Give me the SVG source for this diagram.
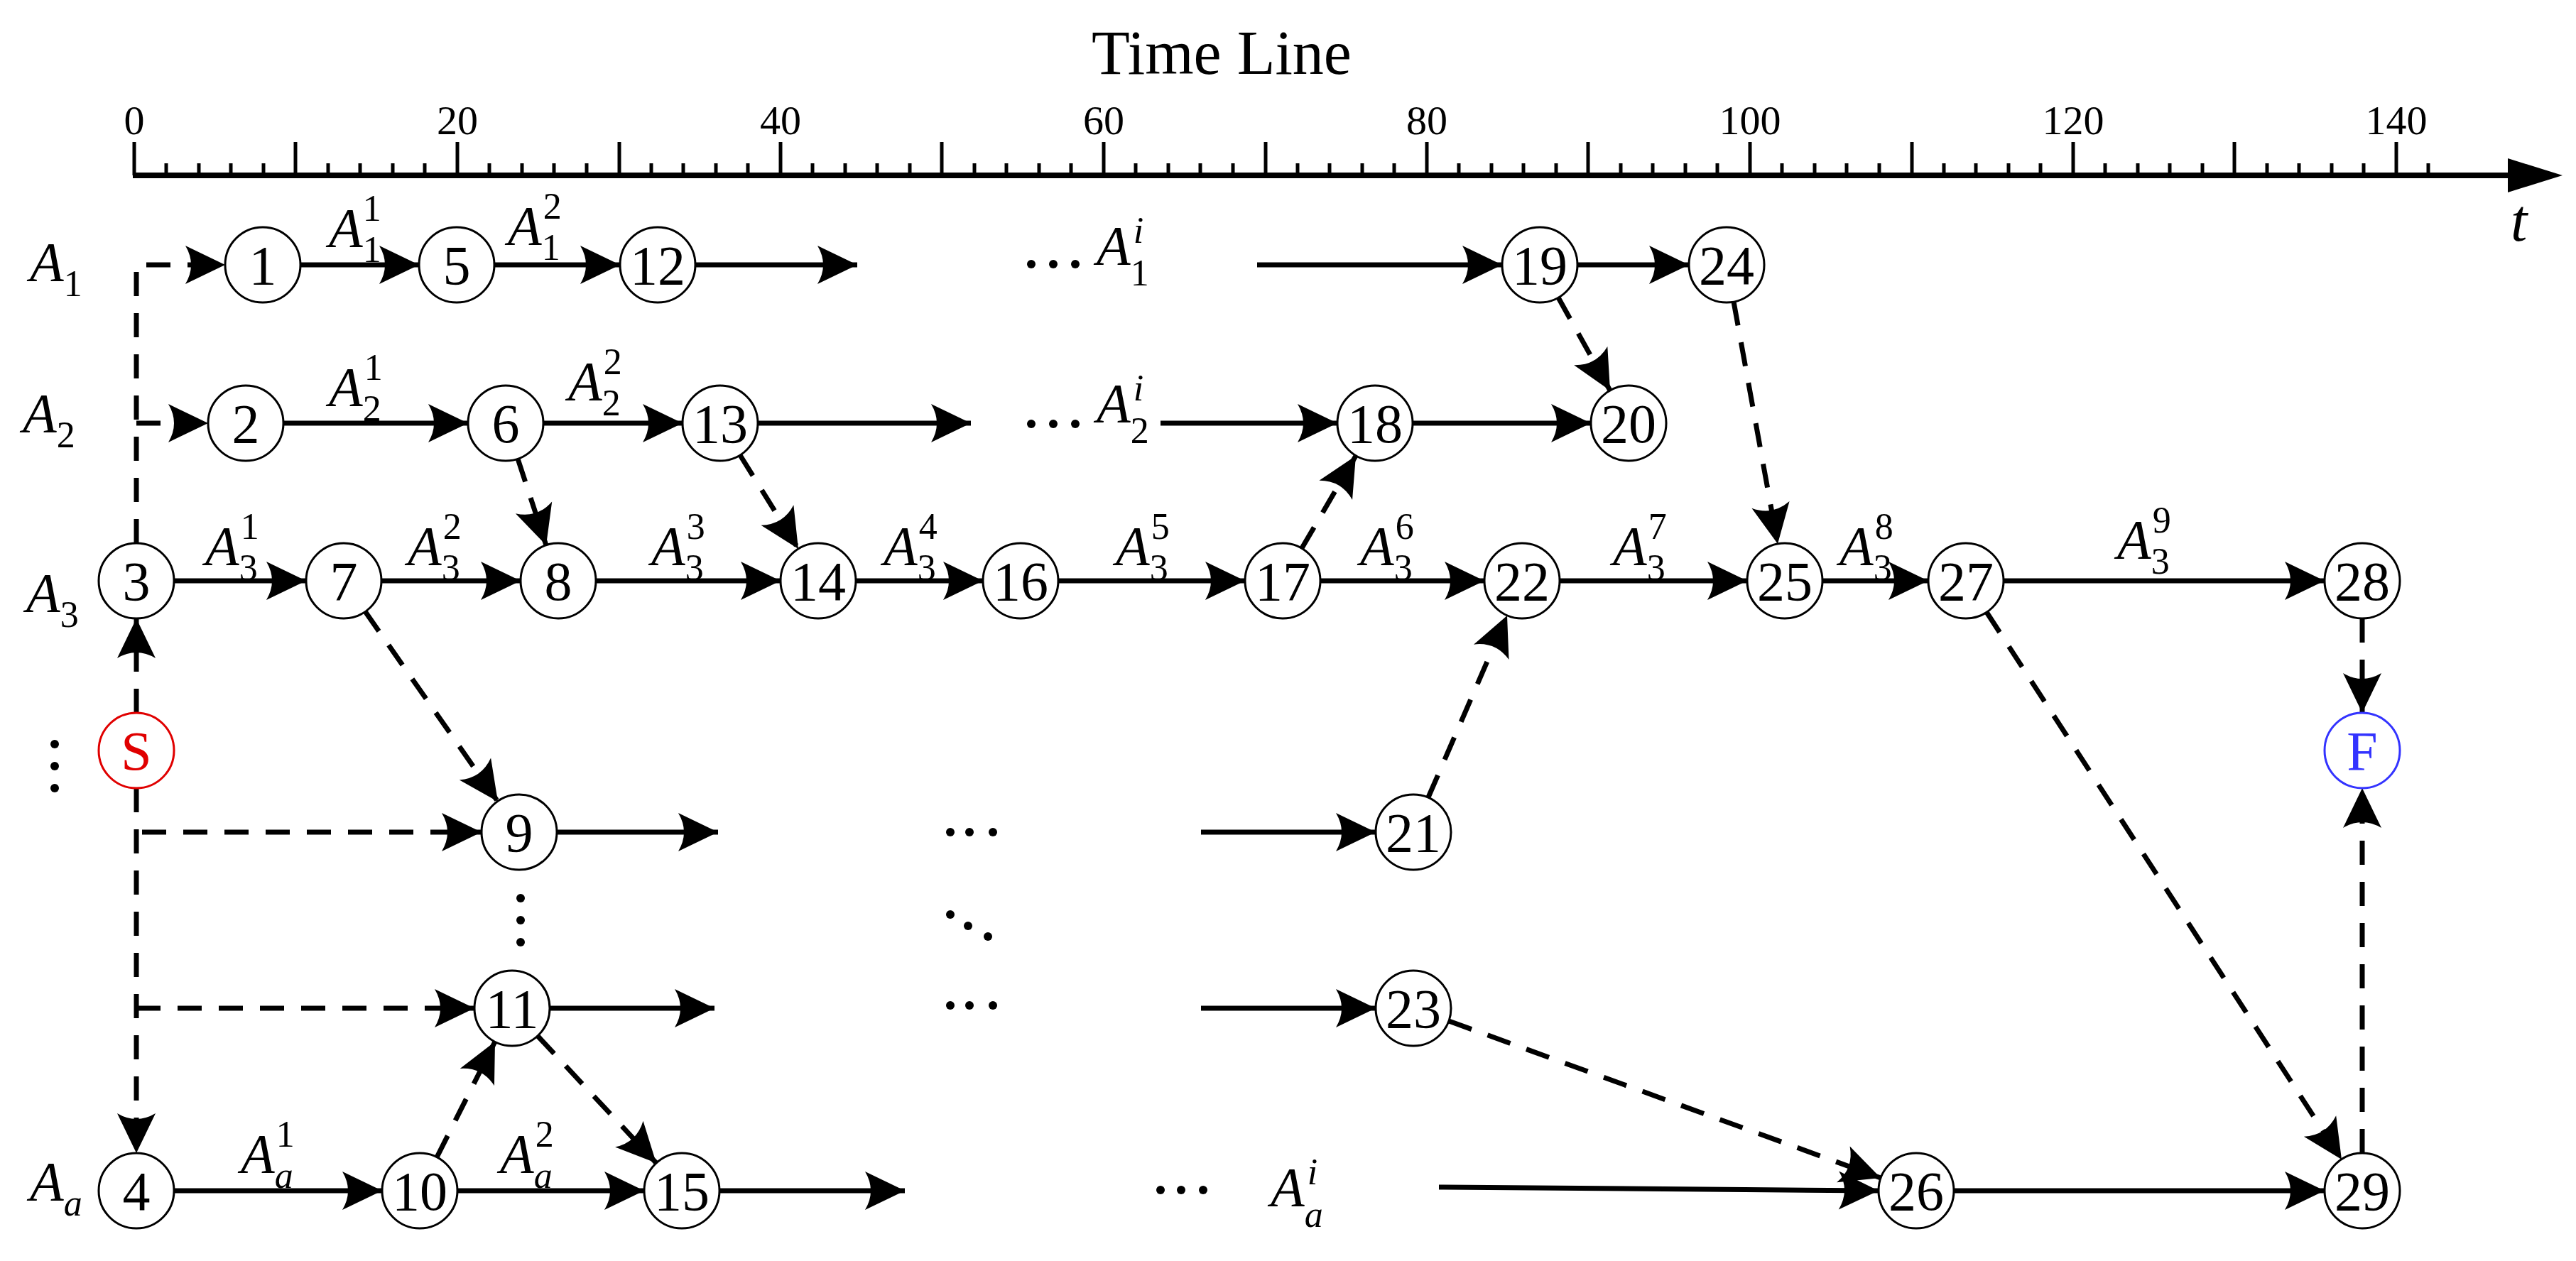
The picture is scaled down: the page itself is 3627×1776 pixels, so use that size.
<svg xmlns="http://www.w3.org/2000/svg" width="3627" height="1776" viewBox="0 0 3627 1776">
<defs>
<style>
text{font-family:"Liberation Serif","Times New Roman",serif;fill:#000}
.num{font-size:78px;text-anchor:middle}
.ax{font-size:58px;text-anchor:middle}
.it{font-style:italic;font-size:78px}
.s{font-size:52px;font-style:normal}
.nd{fill:#fff;stroke:#000;stroke-width:3}
.e{stroke:#000;stroke-width:7;fill:none;marker-end:url(#ah)}
.d{stroke:#000;stroke-width:7;fill:none;stroke-dasharray:34 24;marker-end:url(#ah)}
.dn{stroke:#000;stroke-width:7;fill:none;stroke-dasharray:34 24}
.tk{stroke:#000;stroke-width:5}
</style>
<marker id="ah" markerUnits="userSpaceOnUse" markerWidth="60" markerHeight="60" viewBox="-56 -30 60 60" refX="0" refY="0" orient="auto" overflow="visible">
<path d="M0,0 L-56,-27 Q-40,0 -56,27 Z" fill="#000" stroke="none"/>
</marker>
</defs>
<rect width="3627" height="1776" fill="#fff"/>
<g id="timeline">
<text x="1720" y="104" style="font-size:88px;text-anchor:middle">Time Line</text>
<line x1="187" y1="247" x2="3540" y2="247" stroke="#000" stroke-width="8"/>
<path d="M3608,247 L3531,223 L3531,271 Z" fill="#000"/>
<g class="tk">
<line x1="189" y1="200" x2="189" y2="247"/><line x1="416" y1="200" x2="416" y2="247"/><line x1="644" y1="200" x2="644" y2="247"/><line x1="872" y1="200" x2="872" y2="247"/><line x1="1099" y1="200" x2="1099" y2="247"/><line x1="1326" y1="200" x2="1326" y2="247"/><line x1="1554" y1="200" x2="1554" y2="247"/><line x1="1782" y1="200" x2="1782" y2="247"/><line x1="2009" y1="200" x2="2009" y2="247"/><line x1="2236" y1="200" x2="2236" y2="247"/><line x1="2464" y1="200" x2="2464" y2="247"/><line x1="2692" y1="200" x2="2692" y2="247"/><line x1="2919" y1="200" x2="2919" y2="247"/><line x1="3146" y1="200" x2="3146" y2="247"/><line x1="3374" y1="200" x2="3374" y2="247"/>
</g>
<path class="tk" stroke="#000" stroke-width="3" d="M234,230V247M280,230V247M325,230V247M371,230V247M462,230V247M507,230V247M553,230V247M598,230V247M689,230V247M735,230V247M780,230V247M826,230V247M917,230V247M962,230V247M1008,230V247M1053,230V247M1144,230V247M1190,230V247M1235,230V247M1281,230V247M1372,230V247M1417,230V247M1463,230V247M1508,230V247M1599,230V247M1645,230V247M1690,230V247M1736,230V247M1827,230V247M1872,230V247M1918,230V247M1963,230V247M2054,230V247M2100,230V247M2145,230V247M2191,230V247M2282,230V247M2327,230V247M2373,230V247M2418,230V247M2509,230V247M2555,230V247M2600,230V247M2646,230V247M2737,230V247M2782,230V247M2828,230V247M2873,230V247M2964,230V247M3010,230V247M3055,230V247M3101,230V247M3192,230V247M3237,230V247M3283,230V247M3328,230V247M3419,230V247"/>
<text class="ax" x="189" y="189">0</text><text class="ax" x="644" y="189">20</text><text class="ax" x="1099" y="189">40</text><text class="ax" x="1554" y="189">60</text><text class="ax" x="2009" y="189">80</text><text class="ax" x="2464" y="189">100</text><text class="ax" x="2919" y="189">120</text><text class="ax" x="3374" y="189">140</text>
<text class="it" x="3535" y="339" style="font-size:84px">t</text>
</g>
<g id="connectors">
<path class="d" d="M192,765 V373 H317"/>
<path class="d" d="M192,596 H293"/>
<line class="d" x1="192" y1="1004" x2="192" y2="871"/>
<line class="d" x1="192" y1="1110" x2="192" y2="1624"/>
<path class="d" d="M200,1172 H678"/>
<path class="d" d="M192,1420 H668"/>
<line class="e" x1="423" y1="373" x2="590" y2="373"/>
<line class="e" x1="696" y1="373" x2="873" y2="373"/>
<line class="e" x1="979" y1="373" x2="1207" y2="373"/>
<line class="e" x1="1770" y1="373" x2="2115" y2="373"/>
<line class="e" x1="2221" y1="373" x2="2378" y2="373"/>
<line class="e" x1="399" y1="596" x2="659" y2="596"/>
<line class="e" x1="765" y1="596" x2="961" y2="596"/>
<line class="e" x1="1067" y1="596" x2="1367" y2="596"/>
<line class="e" x1="1634" y1="596" x2="1883" y2="596"/>
<line class="e" x1="1989" y1="596" x2="2240" y2="596"/>
<line class="e" x1="245" y1="818" x2="431" y2="818"/>
<line class="e" x1="537" y1="818" x2="733" y2="818"/>
<line class="e" x1="839" y1="818" x2="1099" y2="818"/>
<line class="e" x1="1205" y1="818" x2="1384" y2="818"/>
<line class="e" x1="1490" y1="818" x2="1753" y2="818"/>
<line class="e" x1="1859" y1="818" x2="2090" y2="818"/>
<line class="e" x1="2196" y1="818" x2="2460" y2="818"/>
<line class="e" x1="2566" y1="818" x2="2715" y2="818"/>
<line class="e" x1="2821" y1="818" x2="3273" y2="818"/>
<line class="e" x1="784" y1="1172" x2="1011" y2="1172"/>
<line class="e" x1="774" y1="1420" x2="1006" y2="1420"/>
<line class="e" x1="1691" y1="1172" x2="1937" y2="1172"/>
<line class="e" x1="1691" y1="1420" x2="1937" y2="1420"/>
<line class="e" x1="245" y1="1677" x2="538" y2="1677"/>
<line class="e" x1="644" y1="1677" x2="907" y2="1677"/>
<line class="e" x1="1013" y1="1677" x2="1274" y2="1677"/>
<line class="e" x1="2026" y1="1672" x2="2645" y2="1677"/>
<line class="e" x1="2751" y1="1677" x2="3273" y2="1677"/>
<line class="d" x1="729" y1="646" x2="769" y2="768"/>
<line class="d" x1="1042" y1="641" x2="1124" y2="773"/>
<line class="d" x1="1833" y1="772" x2="1909" y2="642"/>
<line class="d" x1="2194" y1="419" x2="2267" y2="550"/>
<line class="d" x1="2441" y1="425" x2="2503" y2="766"/>
<line class="d" x1="514" y1="861" x2="701" y2="1129"/>
<line class="d" x1="2011" y1="1123" x2="2122" y2="867"/>
<line class="d" x1="615" y1="1630" x2="697" y2="1467"/>
<line class="d" x1="757" y1="1459" x2="924" y2="1638"/>
<line class="d" x1="2040" y1="1438" x2="2648" y2="1659"/>
<line class="d" x1="2797" y1="862" x2="3297" y2="1633"/>
<line class="d" x1="3326" y1="871" x2="3326" y2="1004"/>
<line class="d" x1="3326" y1="1624" x2="3326" y2="1110"/>
</g>
<g id="dots" fill="#000">
<circle cx="1452" cy="372" r="6"/><circle cx="1483" cy="372" r="6"/><circle cx="1514" cy="372" r="6"/>
<circle cx="1452" cy="597" r="6"/><circle cx="1483" cy="597" r="6"/><circle cx="1514" cy="597" r="6"/>
<circle cx="77" cy="1048" r="6"/><circle cx="77" cy="1079" r="6"/><circle cx="77" cy="1110" r="6"/>
<circle cx="733" cy="1265" r="6"/><circle cx="733" cy="1296" r="6"/><circle cx="733" cy="1327" r="6"/>
<circle cx="1338" cy="1172" r="6"/><circle cx="1365" cy="1172" r="6"/><circle cx="1398" cy="1172" r="6"/>
<circle cx="1338" cy="1288" r="6"/><circle cx="1363" cy="1304" r="6"/><circle cx="1391" cy="1319" r="6"/>
<circle cx="1338" cy="1416" r="6"/><circle cx="1365" cy="1416" r="6"/><circle cx="1398" cy="1416" r="6"/>
<circle cx="1634" cy="1676" r="6"/><circle cx="1663" cy="1676" r="6"/><circle cx="1694" cy="1676" r="6"/>
</g>
<g id="labels">
<text class="it" x="42" y="395">A<tspan class="s" dy="22">1</tspan></text>
<text class="it" x="32" y="608">A<tspan class="s" dy="22">2</tspan></text>
<text class="it" x="37" y="861">A<tspan class="s" dy="22">3</tspan></text>
<text class="it" x="42" y="1690">A<tspan class="s" style="font-style:italic" dy="22">a</tspan></text>
<text class="it" x="463" y="347">A<tspan class="s" dy="22">1</tspan><tspan class="s" dx="-24" dy="-58">1</tspan></text>
<text class="it" x="715" y="344">A<tspan class="s" dy="22">1</tspan><tspan class="s" dx="-24" dy="-58">2</tspan></text>
<text class="it" x="1544" y="372">A<tspan class="s" dy="30">1</tspan><tspan class="s" style="font-style:italic" dx="-22" dy="-60">i</tspan></text>
<text class="it" x="463" y="571">A<tspan class="s" dy="22">2</tspan><tspan class="s" dx="-24" dy="-58">1</tspan></text>
<text class="it" x="800" y="563">A<tspan class="s" dy="22">2</tspan><tspan class="s" dx="-24" dy="-58">2</tspan></text>
<text class="it" x="1544" y="594">A<tspan class="s" dy="30">2</tspan><tspan class="s" style="font-style:italic" dx="-22" dy="-60">i</tspan></text>
<text class="it" x="289" y="795">A<tspan class="s" dy="22">3</tspan><tspan class="s" dx="-24" dy="-58">1</tspan></text>
<text class="it" x="574" y="795">A<tspan class="s" dy="22">3</tspan><tspan class="s" dx="-24" dy="-58">2</tspan></text>
<text class="it" x="917" y="795">A<tspan class="s" dy="22">3</tspan><tspan class="s" dx="-24" dy="-58">3</tspan></text>
<text class="it" x="1244" y="795">A<tspan class="s" dy="22">3</tspan><tspan class="s" dx="-24" dy="-58">4</tspan></text>
<text class="it" x="1571" y="795">A<tspan class="s" dy="22">3</tspan><tspan class="s" dx="-24" dy="-58">5</tspan></text>
<text class="it" x="1915" y="795">A<tspan class="s" dy="22">3</tspan><tspan class="s" dx="-24" dy="-58">6</tspan></text>
<text class="it" x="2271" y="795">A<tspan class="s" dy="22">3</tspan><tspan class="s" dx="-24" dy="-58">7</tspan></text>
<text class="it" x="2590" y="795">A<tspan class="s" dy="22">3</tspan><tspan class="s" dx="-24" dy="-58">8</tspan></text>
<text class="it" x="2981" y="786">A<tspan class="s" dy="22">3</tspan><tspan class="s" dx="-24" dy="-58">9</tspan></text>
<text class="it" x="339" y="1651">A<tspan class="s" style="font-style:italic" dy="22">a</tspan><tspan class="s" dx="-24" dy="-58">1</tspan></text>
<text class="it" x="704" y="1651">A<tspan class="s" style="font-style:italic" dy="22">a</tspan><tspan class="s" dx="-24" dy="-58">2</tspan></text>
<text class="it" x="1789" y="1698">A<tspan class="s" style="font-style:italic" dy="30">a</tspan><tspan class="s" style="font-style:italic" dx="-22" dy="-60">i</tspan></text>
</g>
<g id="n1"><circle class="nd" cx="370" cy="373" r="53"/><text class="num" x="370" y="400">1</text></g>
<g id="n5"><circle class="nd" cx="643" cy="373" r="53"/><text class="num" x="643" y="400">5</text></g>
<g id="n12"><circle class="nd" cx="926" cy="373" r="53"/><text class="num" x="926" y="400">12</text></g>
<g id="n19"><circle class="nd" cx="2168" cy="373" r="53"/><text class="num" x="2168" y="400">19</text></g>
<g id="n24"><circle class="nd" cx="2431" cy="373" r="53"/><text class="num" x="2431" y="400">24</text></g>
<g id="n2"><circle class="nd" cx="346" cy="596" r="53"/><text class="num" x="346" y="623">2</text></g>
<g id="n6"><circle class="nd" cx="712" cy="596" r="53"/><text class="num" x="712" y="623">6</text></g>
<g id="n13"><circle class="nd" cx="1014" cy="596" r="53"/><text class="num" x="1014" y="623">13</text></g>
<g id="n18"><circle class="nd" cx="1936" cy="596" r="53"/><text class="num" x="1936" y="623">18</text></g>
<g id="n20"><circle class="nd" cx="2293" cy="596" r="53"/><text class="num" x="2293" y="623">20</text></g>
<g id="n3"><circle class="nd" cx="192" cy="818" r="53"/><text class="num" x="192" y="845">3</text></g>
<g id="n7"><circle class="nd" cx="484" cy="818" r="53"/><text class="num" x="484" y="845">7</text></g>
<g id="n8"><circle class="nd" cx="786" cy="818" r="53"/><text class="num" x="786" y="845">8</text></g>
<g id="n14"><circle class="nd" cx="1152" cy="818" r="53"/><text class="num" x="1152" y="845">14</text></g>
<g id="n16"><circle class="nd" cx="1437" cy="818" r="53"/><text class="num" x="1437" y="845">16</text></g>
<g id="n17"><circle class="nd" cx="1806" cy="818" r="53"/><text class="num" x="1806" y="845">17</text></g>
<g id="n22"><circle class="nd" cx="2143" cy="818" r="53"/><text class="num" x="2143" y="845">22</text></g>
<g id="n25"><circle class="nd" cx="2513" cy="818" r="53"/><text class="num" x="2513" y="845">25</text></g>
<g id="n27"><circle class="nd" cx="2768" cy="818" r="53"/><text class="num" x="2768" y="845">27</text></g>
<g id="n28"><circle class="nd" cx="3326" cy="818" r="53"/><text class="num" x="3326" y="845">28</text></g>
<g id="nS"><circle class="nd" cx="192" cy="1057" r="53" style="stroke:#e00000"/><text class="num" x="192" y="1084" style="fill:#e00000">S</text></g>
<g id="nF"><circle class="nd" cx="3326" cy="1057" r="53" style="stroke:#3333ff"/><text class="num" x="3326" y="1084" style="fill:#3333ff">F</text></g>
<g id="n9"><circle class="nd" cx="731" cy="1172" r="53"/><text class="num" x="731" y="1199">9</text></g>
<g id="n21"><circle class="nd" cx="1990" cy="1172" r="53"/><text class="num" x="1990" y="1199">21</text></g>
<g id="n11"><circle class="nd" cx="721" cy="1420" r="53"/><text class="num" x="721" y="1447">11</text></g>
<g id="n23"><circle class="nd" cx="1990" cy="1420" r="53"/><text class="num" x="1990" y="1447">23</text></g>
<g id="n4"><circle class="nd" cx="192" cy="1677" r="53"/><text class="num" x="192" y="1704">4</text></g>
<g id="n10"><circle class="nd" cx="591" cy="1677" r="53"/><text class="num" x="591" y="1704">10</text></g>
<g id="n15"><circle class="nd" cx="960" cy="1677" r="53"/><text class="num" x="960" y="1704">15</text></g>
<g id="n26"><circle class="nd" cx="2698" cy="1677" r="53"/><text class="num" x="2698" y="1704">26</text></g>
<g id="n29"><circle class="nd" cx="3326" cy="1677" r="53"/><text class="num" x="3326" y="1704">29</text></g>
</svg>
